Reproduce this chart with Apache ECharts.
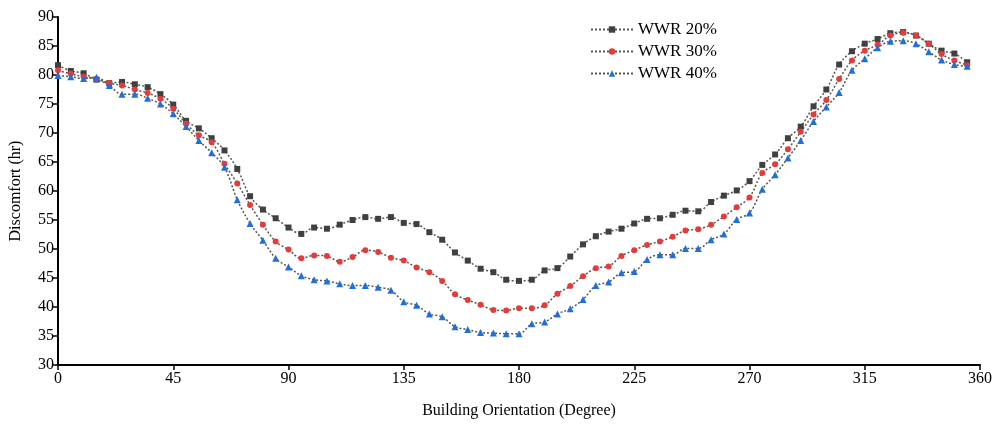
<!DOCTYPE html>
<html>
<head>
<meta charset="utf-8">
<script src="https://cdn.jsdelivr.net/npm/echarts@6/dist/echarts.min.js"></script>
<style>
html,body{margin:0;padding:0;background:#fff;}
#chart{width:999px;height:426px;}
</style>
</head>
<body>
<div id="chart"></div>
<script>
const angles = [0,5,10,15,20,25,30,35,40,45,50,55,60,65,70,75,80,85,90,95,100,105,110,115,120,125,130,135,140,145,150,155,160,165,170,175,180,185,190,195,200,205,210,215,220,225,230,235,240,245,250,255,260,265,270,275,280,285,290,295,300,305,310,315,320,325,330,335,340,345,350,355];
const xTicks = [0,45,90,135,180,225,270,315,360];
const wwr20 = [81.7,80.7,80.3,79.2,78.6,78.8,78.4,77.9,76.7,74.9,72.1,70.8,69.1,67.0,63.8,59.1,56.8,55.3,53.7,52.6,53.7,53.5,54.2,55.0,55.5,55.2,55.5,54.5,54.3,52.9,51.6,49.4,48.0,46.6,46.0,44.7,44.5,44.7,46.3,46.7,48.7,50.8,52.2,53.0,53.5,54.4,55.2,55.3,55.9,56.6,56.5,58.1,59.2,60.1,61.7,64.5,66.3,69.1,71.1,74.6,77.5,81.8,84.1,85.4,86.2,87.2,87.4,86.8,85.4,84.2,83.7,82.2];
const wwr30 = [80.8,80.2,79.7,79.3,78.6,78.2,77.5,76.9,75.9,74.2,71.6,69.6,68.4,64.7,61.3,57.6,54.2,51.3,49.9,48.4,48.9,48.8,47.8,48.6,49.8,49.5,48.5,48.0,46.8,46.0,44.5,42.2,41.2,40.4,39.5,39.4,39.8,39.8,40.3,42.3,43.6,45.3,46.7,47.0,48.8,49.8,50.7,51.3,52.1,53.2,53.4,54.2,55.6,57.2,58.9,63.1,64.6,67.2,70.2,73.2,75.7,79.3,82.5,84.2,85.2,86.8,87.3,86.8,85.4,83.6,82.5,81.7];
const wwr40 = [79.9,79.7,79.4,79.6,78.2,76.7,76.7,76.0,75.0,73.3,71.1,68.7,66.6,64.1,58.5,54.4,51.5,48.4,46.9,45.4,44.7,44.5,44.0,43.7,43.7,43.4,42.9,40.9,40.3,38.8,38.3,36.6,36.1,35.6,35.5,35.4,35.4,37.1,37.4,38.8,39.7,41.3,43.7,44.3,45.9,46.1,48.2,49.0,49.0,50.1,50.1,51.6,52.6,55.1,56.2,60.3,62.8,65.7,68.7,72.0,74.5,77.0,80.8,82.8,84.7,85.8,85.9,85.4,84.0,82.6,81.8,81.5];
const seriesNames = ['WWR 20%','WWR 30%','WWR 40%'];

const FONT = '"Liberation Serif","Times New Roman",serif';
const pair = arr => angles.map((a,i)=>[a,arr[i]]);
const lineStyle = {color:'#555', width:1.5, type:[2,2]};
function mk(name, arr, symbol, color, size){
  return {
    name, type:'line', data:pair(arr), smooth:0.35, symbol, symbolSize:size,
    itemStyle:{color}, lineStyle, emphasis:{disabled:true}, z: 2
  };
}
const chart = echarts.init(document.getElementById('chart'), null, {renderer:'canvas'});
chart.setOption({
  animation:false,
  backgroundColor:'#fff',
  grid:{left:54, right:19, top:17, bottom:61, containLabel:false},
  legend:{
    orient:'vertical', left:585, top:16, itemWidth:42, itemHeight:8, itemGap:5,
    textStyle:{fontFamily:FONT, fontSize:17, color:'#000'},
    data:seriesNames.map(n=>({name:n}))
  },
  xAxis:{
    type:'value', min:0, max:360, interval:45,
    name:'Building Orientation (Degree)', nameLocation:'middle', nameGap:38,
    nameTextStyle:{fontFamily:FONT, fontSize:16, color:'#000'},
    axisLine:{show:true, lineStyle:{color:'#000', width:2}},
    axisTick:{show:true, length:5, lineStyle:{color:'#000', width:1.5}},
    axisLabel:{fontFamily:FONT, fontSize:16, color:'#000', margin:6,
      formatter:v=>xTicks.includes(v)?String(v):''},
    splitLine:{show:false}
  },
  yAxis:{
    type:'value', min:30, max:90, interval:5,
    name:'Discomfort (hr)', nameLocation:'middle', nameGap:34,
    nameTextStyle:{fontFamily:FONT, fontSize:16, color:'#000'},
    axisLine:{show:true, lineStyle:{color:'#000', width:2}},
    axisTick:{show:true, length:5, lineStyle:{color:'#000', width:1.5}},
    axisLabel:{fontFamily:FONT, fontSize:16, color:'#000', margin:4},
    splitLine:{show:false}
  },
  series:[
    mk(seriesNames[0], wwr20, 'rect', '#404040', 6),
    mk(seriesNames[1], wwr30, 'circle', '#e53b3b', 6),
    mk(seriesNames[2], wwr40, 'triangle', '#1f6fdc', 7)
  ]
});
</script>
</body>
</html>
